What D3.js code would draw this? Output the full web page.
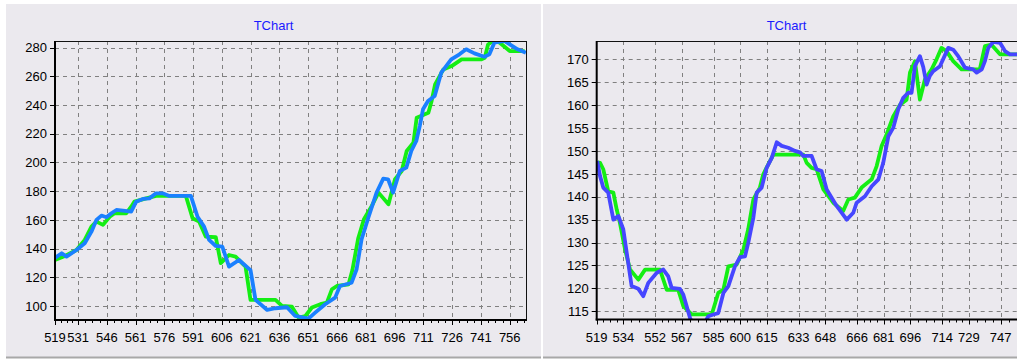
<!DOCTYPE html>
<html>
<head>
<meta charset="utf-8">
<script src="https://cdn.jsdelivr.net/npm/d3@7"></script>
<style>
  body { margin: 0; background: #fff; }
  text { font-family: "Liberation Sans", Arial, sans-serif; font-size: 13px; }
</style>
</head>
<body>
<svg id="chart" width="1017" height="359"></svg>
<script>
// values, [x, y]
const leftGreen = [[519,132],[524.2,134.8],[530.2,139],[534.5,146],[538,155.3],[540.6,158.8],[544,156.5],[547.5,162.2],[550.1,164.6],[556.1,164.6],[558.7,169.2],[560.4,172.7],[566.5,175],[571.7,176.7],[587.2,176.7],[590.7,161.1],[594.1,158.8],[597.6,148.3],[602.8,147.9],[605.4,129.8],[609.7,135.5],[613.1,134.4],[618.3,127.4],[620.9,104.2],[633.9,104.2],[637.3,100],[642.5,99.5],[646,91.8],[649.5,93],[652.9,98.9],[657.3,101.2],[660.7,102.3],[663.3,111.6],[665.9,113.9],[672,115.1],[674,125],[677,147],[680,160.4],[684.1,169.7],[687.6,179],[692.8,170.9],[696.2,188.3],[699.7,194.1],[702.3,208],[705.8,213.8],[707.5,231.2],[713.6,234.7],[715.3,242.9],[717.1,254.5],[721.4,264.9],[725.7,267.2],[730.9,271.9],[741.3,271.9],[743,273],[744.7,282.3],[747.3,284.7],[750.8,283.5],[756,277.7],[763.8,277.7]];
const leftBlue = [[519,133.5],[522.5,136.7],[525,134.4],[530.2,139],[534.5,143.7],[538,151.8],[540.6,160],[543.2,163],[545.8,161.8],[548.4,164.6],[551,166.9],[554.4,166.4],[558.7,165.7],[561.3,172.7],[564.8,174.6],[568.2,175],[571.7,178.5],[575.1,178.5],[578.6,176.7],[589.8,176.7],[593.3,162.2],[596.7,155.3],[599.3,146],[602.8,141.8],[606.2,141.3],[609.7,127.4],[614.9,132],[620.9,125],[623.5,104.2],[629.6,97.2],[633.9,98.4],[639.9,99.1],[644.2,93],[651.1,91.2],[654.6,95.3],[659.8,101.2],[665,105.8],[667.5,113.9],[673.6,116.2],[676.2,125.6],[678.8,146.5],[682.3,161.5],[686.6,179],[690.1,188.8],[692.6,188.3],[695.2,179],[698.7,194.1],[702.1,196.4],[704.7,208],[707.3,215],[709.1,225.4],[710.8,237.1],[713.4,242.9],[716.9,246.3],[720.3,262.6],[725.5,271.9],[729.8,275.4],[733.3,278.9],[737.6,276.1],[742.8,273.7],[745.4,275.4],[748,283.5],[753.2,284.7],[760.1,278.9],[764.4,276.5]];

const rightGreen = [[519.5,147.5],[520.9,147.4],[522.7,146],[525.5,141.2],[528.4,140.9],[530.3,137.2],[532.1,134.3],[535,128.5],[537.8,124.1],[542.5,121.9],[546.3,124.1],[554.7,124.1],[558.5,119.7],[565,119.7],[567.9,116.1],[572.6,114.3],[583.9,114.3],[587.6,119],[590.5,119.7],[593.3,124.8],[598,125.2],[601.8,128.5],[604.5,132.9],[607.4,139.4],[611.1,142],[613,144.9],[615.9,147.1],[618.7,149.2],[635.6,149.2],[637.5,147.4],[640.3,146.3],[643.1,146],[646.9,141.6],[652.5,138.7],[658.1,136.9],[661,139.4],[664.7,139.8],[668.5,142],[674.2,143.8],[677,146.7],[679.8,151.1],[682.6,153.6],[686.4,157.6],[690.2,160.1],[693.9,161.2],[695.8,167.1],[698.6,169.6],[701.4,161.2],[704.2,165.6],[708,167.8],[710.8,170],[713.6,172.5],[716.4,171.8],[720.2,169.6],[724.9,167.8],[735.2,167.8],[738.1,172.9],[741.8,173.2],[746.6,171.1],[756,171.1],[762,171.1]];
const rightBlue = [[519.3,147.8],[520.9,144.5],[522.7,142],[525.5,140.9],[528.4,135],[531.2,135.8],[534,132.9],[538.7,120.5],[542.5,119.9],[545.3,118.3],[548.1,121.2],[552.9,123.4],[556.6,124.1],[559.4,122.6],[561.3,120.1],[566,119.9],[567.9,118.6],[571.7,113.5],[573,112.5],[580,112.5],[582,113.9],[584.8,114.3],[587.6,114.6],[590.5,119],[593.3,120.5],[597,124.8],[599.9,126.8],[602.7,127],[604.5,129.9],[607.4,135.4],[609.3,140.9],[612.1,142],[614.9,146.3],[617.8,148.5],[620.6,151.9],[623.4,151.1],[627.1,150.7],[630.9,150],[633.7,149.7],[635.6,148.9],[640.3,148.9],[643.1,146],[645.9,145.6],[648.8,141.6],[654.4,138],[660.1,135],[663.8,136.5],[665.7,138.7],[670.4,140.1],[674.2,142.3],[678,143.8],[680.7,147.4],[683.6,153.2],[686.4,155.1],[689.2,159.1],[692,161.6],[694.8,162.7],[696.7,162.7],[698.6,168.5],[701.4,170.7],[703.3,168.3],[705.2,164.5],[707,166.4],[708.9,167.4],[712.7,168.5],[717.4,172.5],[720.2,172.1],[723,170.7],[726.8,168.2],[731.5,167.8],[733.4,167.1],[736.3,167.8],[738.1,169.6],[740,172.5],[742.8,173.8],[746.6,173.6],[749.4,171.8],[752.2,171.1],[756,171.1],[762,171.1]];

// axis labels as TChart printed them
const leftXTicks = [519,531,546,561,576,591,606,621,636,651,666,681,696,711,726,741,756];
const leftYTicks = [100,120,140,160,180,200,220,240,260,280];
const rightXTicks = [519,534,552,567,585,600,615,633,648,666,681,696,714,729,747];
const rightYTicks = [115,120,125,130,135,140,145,150,155,160,165,170];

const titleText = "TChart";

var svg = d3.select("#chart");

function drawPanel(cfg) {
    var g = svg.append("g");

    // panel background
    g.append("rect")
        .attr("x", cfg.panel.x).attr("y", cfg.panel.y)
        .attr("width", cfg.panel.w).attr("height", cfg.panel.h)
        .attr("fill", "#ebe9ee");
    g.append("line")
        .attr("x1", cfg.panel.x).attr("x2", cfg.panel.x + cfg.panel.w)
        .attr("y1", 357.5).attr("y2", 357.5)
        .attr("stroke", "#a8a8a8").attr("stroke-width", 2);

    g.append("text")
        .attr("x", cfg.titleX).attr("y", 30)
        .attr("text-anchor", "middle")
        .attr("fill", "#1a1aff")
        .text(titleText);

    var p = cfg.plot;
    var x = d3.scaleLinear().domain(cfg.xDomain).range([p.left, p.right]);
    var y = d3.scaleLinear().domain(cfg.yDomain).range([p.bottom, p.top]);

    // grid
    g.append("g").selectAll("line")
        .data(cfg.xTicks.filter(t => t > cfg.xDomain[0]))
        .enter().append("line")
        .attr("x1", d => Math.round(x(d)) + 0.5).attr("x2", d => Math.round(x(d)) + 0.5)
        .attr("y1", p.top).attr("y2", p.bottom)
        .attr("stroke", "#808080").attr("stroke-dasharray", "4,4");
    g.append("g").selectAll("line")
        .data(cfg.yTicks)
        .enter().append("line")
        .attr("x1", p.left).attr("x2", p.right)
        .attr("y1", d => Math.round(y(d)) + 0.5).attr("y2", d => Math.round(y(d)) + 0.5)
        .attr("stroke", "#808080").attr("stroke-dasharray", "4,4");

    // series
    var clipId = "clip" + cfg.id;
    svg.append("clipPath").attr("id", clipId)
        .append("rect")
        .attr("x", p.left).attr("y", p.top)
        .attr("width", p.right - p.left).attr("height", p.bottom - p.top);

    var line = d3.line()
        .x(d => x(d[0]))
        .y(d => y(d[1]));

    var series = g.append("g").attr("clip-path", "url(#" + clipId + ")");
    cfg.series.forEach(s => {
        series.append("path")
            .datum(s.data)
            .attr("d", line)
            .attr("fill", "none")
            .attr("stroke", s.color)
            .attr("stroke-width", 3.8)
            .attr("stroke-linejoin", "round");
    });

    // frame
    g.append("line")
        .attr("x1", p.left).attr("x2", p.right)
        .attr("y1", p.top + 0.5).attr("y2", p.top + 0.5)
        .attr("stroke", "#111");
    g.append("line")
        .attr("x1", p.right - 0.5).attr("x2", p.right - 0.5)
        .attr("y1", p.top).attr("y2", p.bottom)
        .attr("stroke", "#111");

    // left axis
    var yAxis = g.append("g");
    yAxis.append("line")
        .attr("x1", p.left).attr("x2", p.left)
        .attr("y1", p.top).attr("y2", p.bottom + 1)
        .attr("stroke", "#000").attr("stroke-width", 2);
    yAxis.selectAll("line.tick")
        .data(cfg.yTicks)
        .enter().append("line")
        .attr("class", "tick")
        .attr("x1", p.left - 5).attr("x2", p.left)
        .attr("y1", d => Math.round(y(d)) + 0.5).attr("y2", d => Math.round(y(d)) + 0.5)
        .attr("stroke", "#000");
    yAxis.selectAll("text")
        .data(cfg.yTicks)
        .enter().append("text")
        .attr("x", p.left - 8)
        .attr("y", d => y(d))
        .attr("dy", "0.36em")
        .attr("text-anchor", "end")
        .text(d => d);

    // bottom axis
    var xAxis = g.append("g");
    xAxis.append("line")
        .attr("x1", p.left - 1).attr("x2", p.right)
        .attr("y1", p.bottom).attr("y2", p.bottom)
        .attr("stroke", "#000").attr("stroke-width", 2);

    var minor = [];
    for (var i = 0; i < cfg.xTicks.length; i++) {
        var a = cfg.xTicks[i];
        var b = i + 1 < cfg.xTicks.length ? cfg.xTicks[i + 1] : a + (a - cfg.xTicks[i - 1]);
        for (var k = 1; k < 4; k++) minor.push(a + (b - a) * k / 4);
    }
    xAxis.selectAll("line.minor")
        .data(minor.filter(v => v < cfg.xDomain[1]))
        .enter().append("line")
        .attr("class", "minor")
        .attr("x1", d => Math.round(x(d)) + 0.5).attr("x2", d => Math.round(x(d)) + 0.5)
        .attr("y1", p.bottom).attr("y2", p.bottom + 3)
        .attr("stroke", "#000");
    xAxis.selectAll("line.major")
        .data(cfg.xTicks)
        .enter().append("line")
        .attr("class", "major")
        .attr("x1", d => Math.round(x(d)) + 0.5).attr("x2", d => Math.round(x(d)) + 0.5)
        .attr("y1", p.bottom).attr("y2", p.bottom + 5)
        .attr("stroke", "#000");
    xAxis.selectAll("text")
        .data(cfg.xTicks)
        .enter().append("text")
        .attr("x", d => x(d))
        .attr("y", 342)
        .attr("text-anchor", "middle")
        .text(d => d);
}

drawPanel({
    id: "L",
    panel: {x: 6, y: 4, w: 535, h: 353},
    titleX: 273.5,
    plot: {left: 55, right: 527, top: 41, bottom: 320},
    xDomain: [519, 765],
    yDomain: [90.2, 284.7],
    xTicks: leftXTicks,
    yTicks: leftYTicks,
    series: [
        {data: leftGreen, color: "#14ee14"},
        {data: leftBlue, color: "#1a80ff"}
    ]
});

drawPanel({
    id: "R",
    panel: {x: 543, y: 4, w: 490, h: 353},
    titleX: 786.5,
    plot: {left: 596.7, right: 1032.6, top: 41, bottom: 319.5},
    xDomain: [519, 765],
    yDomain: [113.2, 174],
    xTicks: rightXTicks,
    yTicks: rightYTicks,
    series: [
        {data: rightGreen, color: "#14ee14"},
        {data: rightBlue, color: "#4646ff"}
    ]
});
</script>
</body>
</html>
